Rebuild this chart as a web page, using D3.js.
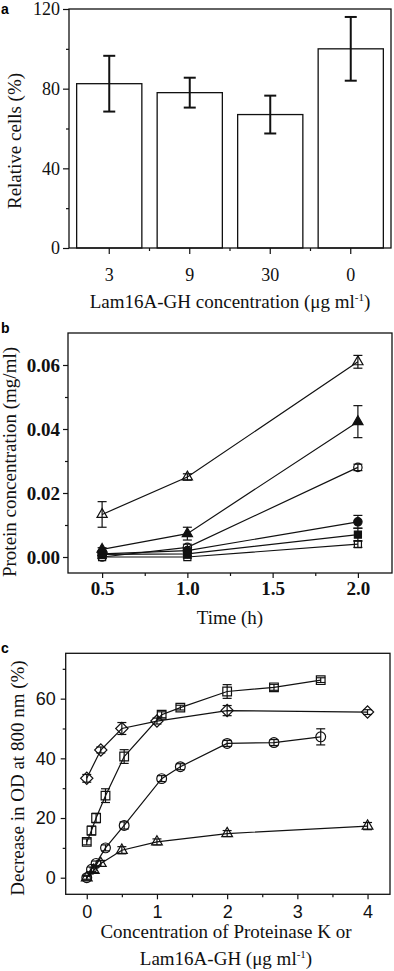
<!DOCTYPE html>
<meta charset="utf-8" />
<title>Lam16A-GH panels</title>
<style>
  body { margin: 0; background: #fff; }
  svg { display: block; }
  .serif { font-family: "Liberation Serif", "Times New Roman", serif; }
  .sans { font-family: "Liberation Sans", Arial, sans-serif; }
</style>
<body>
<svg width="394" height="971"></svg>
<script src="https://d3js.org/d3.v7.min.js"></script>
<script>
  // ---- panel a: relative cells
  const barCats = ["3", "9", "30", "0"];
  const barVals = [82.5, 78, 67, 100];
  const barErr = [14, 7.5, 9.5, 16];

  // ---- panel b: protein release over time
  const timeH = [0.5, 1.0, 2.0];
  const bOpenTri = [0.0133, 0.025, 0.061];
  const bOpenTriErr = [0.004, 0.001, 0.002];
  const bFillTri = [0.0024, 0.0073, 0.0423];
  const bFillTriErr = [0.0005, 0.002, 0.005];
  const bOpenCirc = [0.0, 0.003, 0.028];
  const bOpenCircErr = [0.0005, 0.001, 0.001];
  const bFillCirc = [0.001, 0.002, 0.011];
  const bFillCircErr = [0.0004, 0.0005, 0.002];
  const bFillSq = [0.0008, 0.001, 0.007];
  const bFillSqErr = [0.0004, 0.0004, 0.002];
  const bOpenSq = [0.0, 0.0, 0.004];
  const bOpenSqErr = [0.0004, 0.0004, 0.001];

  // ---- panel c: OD decrease vs concentration
  const pkConc = [0, 0.067, 0.133, 0.267, 0.533, 1.067, 1.333, 2, 2.667, 3.333];
  const cSquare = [12, 15.8, 20, 27.5, 40.6, 54.6, 57, 62.4, 63.8, 66.2];
  const cSquareErr = [1, 1.5, 1.6, 2.3, 2.3, 1, 0.8, 2.3, 1, 0.8];
  const cCircle = [0, 2.8, 4.8, 10, 17.5, 33.2, 37.2, 45, 45.3, 47.2];
  const cCircleErr = [0.8, 0.8, 0.8, 1, 1.2, 1, 1, 1, 1, 2.7];
  const diaConc = [0, 0.2, 0.5, 1, 2, 4];
  const cDiamond = [33.3, 42.8, 50, 52.5, 56, 55.5];
  const cDiamondErr = [1.3, 1, 2, 1, 1.7, 0.8];
  const triConc = [0, 0.1, 0.2, 0.5, 1, 2, 4];
  const cTriangle = [0, 2.5, 4.8, 9.2, 12, 14.8, 17.3];
  const cTriangleErr = [0.5, 0.8, 1, 1.2, 1, 1, 1.2];

  const svg = d3.select("svg");
  const ink = "#111";
  const labelSize = 19;

  function frame(x0, x1, y0, y1) {
    svg.append("rect").attr("x", x0).attr("y", y0)
      .attr("width", x1 - x0).attr("height", y1 - y0)
      .attr("fill", "none").attr("stroke", ink).attr("stroke-width", 1.3);
  }

  function styleAxis(sel, cls, size, weight) {
    sel.select(".domain").remove();
    sel.selectAll("line").attr("stroke", ink).attr("stroke-width", 1.2);
    sel.selectAll("text").attr("class", cls).attr("fill", ink)
      .attr("font-size", size).attr("font-weight", weight || "normal");
    sel.attr("font-family", null).attr("font-size", null);
  }

  function axes(x, y, o) {
    const [x0] = x.range(), [y1] = y.range();
    svg.append("g").attr("transform", `translate(${x0},0)`)
      .call(d3.axisLeft(y).tickValues(o.yMinor).tickSize(3).tickFormat(""))
      .call(s => styleAxis(s));
    svg.append("g").attr("transform", `translate(${x0},0)`)
      .call(d3.axisLeft(y).tickValues(o.yTicks).tickSize(5).tickPadding(o.yPad).tickFormat(o.yFmt))
      .call(s => styleAxis(s, o.cls, o.size, o.weight));
    svg.append("g").attr("transform", `translate(0,${y1})`)
      .call(d3.axisBottom(x).tickValues(o.xMinor).tickSize(3).tickFormat(""))
      .call(s => styleAxis(s));
    svg.append("g").attr("transform", `translate(0,${y1})`)
      .call(d3.axisBottom(x).tickValues(o.xTicks).tickSize(5).tickPadding(o.xPad).tickFormat(o.xFmt))
      .call(s => styleAxis(s, o.cls, o.size, o.weight));
  }

  function yLabel(text, xBase, yCenter) {
    svg.append("text").attr("class", "serif").attr("font-size", labelSize).attr("fill", ink)
      .attr("text-anchor", "middle")
      .attr("transform", `translate(${xBase},${yCenter}) rotate(-90)`)
      .text(text);
  }

  function xLabel(x, y) {
    return svg.append("text").attr("class", "serif").attr("font-size", labelSize).attr("fill", ink)
      .attr("text-anchor", "middle").attr("x", x).attr("y", y);
  }

  function labelWithUnit(parent, pre) {
    parent.append("tspan").text(pre);
    parent.append("tspan").attr("font-size", 11).attr("dy", -7).text("-1");
    parent.append("tspan").attr("dy", 7).text(")");
  }

  function panelTag(t, x, y) {
    svg.append("text").attr("class", "sans").attr("font-weight", "bold")
      .attr("font-size", 14).attr("x", x).attr("y", y).text(t);
  }

  function errBars(g, xs, ys, es, x, y, cap) {
    xs.forEach((xv, i) => {
      const cx = x(xv), top = y(ys[i] + es[i]), bot = y(ys[i] - es[i]);
      g.append("line").attr("x1", cx).attr("x2", cx).attr("y1", top).attr("y2", bot);
      g.append("line").attr("x1", cx - cap / 2).attr("x2", cx + cap / 2).attr("y1", top).attr("y2", top);
      g.append("line").attr("x1", cx - cap / 2).attr("x2", cx + cap / 2).attr("y1", bot).attr("y2", bot);
    });
  }

  function series(s, x, y, cap) {
    const g = svg.append("g").attr("stroke", ink).attr("stroke-width", 1.2);
    const pts = s.x.map((xv, i) => [xv, s.y[i]]);
    g.append("path").datum(pts).attr("fill", "none")
      .attr("d", d3.line().x(d => x(d[0])).y(d => y(d[1])));
    errBars(g, s.x, s.y, s.e, x, y, cap);
    g.selectAll(".m").data(pts).join("path")
      .attr("transform", d => `translate(${x(d[0])},${y(d[1])}) rotate(${s.rot || 0})`)
      .attr("d", d3.symbol(s.sym, s.size))
      .attr("fill", s.filled ? ink : "none");
  }

  // ================= panel a =================
  const aX = d3.scaleBand().domain(barCats).range([69, 391]).paddingInner(0.19).paddingOuter(0.095);
  const aY = d3.scaleLinear().domain([0, 120]).range([248, 9]);

  svg.append("g").selectAll("rect").data(barCats).join("rect")
    .attr("x", d => aX(d)).attr("y", (d, i) => aY(barVals[i]))
    .attr("width", aX.bandwidth()).attr("height", (d, i) => aY(0) - aY(barVals[i]))
    .attr("fill", "#fff").attr("stroke", ink).attr("stroke-width", 1.3);

  const aErrG = svg.append("g").attr("stroke", ink).attr("stroke-width", 2);
  errBars(aErrG, barCats, barVals, barErr, d => aX(d) + aX.bandwidth() / 2, aY, 12);

  svg.append("g").attr("transform", "translate(69,0)")
    .call(d3.axisLeft(aY).tickValues([20, 60, 100]).tickSize(3).tickFormat(""))
    .call(s => styleAxis(s));
  svg.append("g").attr("transform", "translate(69,0)")
    .call(d3.axisLeft(aY).tickValues([0, 40, 80, 120]).tickSize(6).tickPadding(3))
    .call(s => styleAxis(s, "serif", 18));
  svg.append("g").attr("transform", "translate(0,248)")
    .call(d3.axisBottom(aX).tickSize(6).tickPadding(14))
    .call(s => styleAxis(s, "serif", 18));
  const aMinor = barCats.slice(0, -1).map(c => aX(c) + aX.bandwidth() + (aX.step() - aX.bandwidth()) / 2);
  svg.append("g").selectAll("line").data(aMinor).join("line")
    .attr("x1", d => d).attr("x2", d => d).attr("y1", 248).attr("y2", 251)
    .attr("stroke", ink).attr("stroke-width", 1.2);
  frame(69, 391, 9, 248);

  yLabel("Relative cells (%)", 21, 141);
  labelWithUnit(xLabel(230, 308), "Lam16A-GH concentration (\u03bcg ml");
  panelTag("a", 1, 14);

  // ================= panel b =================
  const bX = d3.scaleLinear().domain([0.3, 2.2]).range([68, 392]);
  const bY = d3.scaleLinear().domain([-0.005, 0.07]).range([573, 333]);
  axes(bX, bY, {
    yTicks: [0, 0.02, 0.04, 0.06], yMinor: [0.01, 0.03, 0.05], yFmt: d3.format(".2f"), yPad: 3,
    xTicks: [0.5, 1, 1.5, 2], xMinor: [0.75, 1.25, 1.75], xFmt: d3.format(".1f"), xPad: 4,
    cls: "serif", size: 19, weight: "bold"
  });
  frame(68, 392, 333, 573);

  const bSeries = [
    { x: timeH, y: bOpenSq, e: bOpenSqErr, sym: d3.symbolSquare, size: 50 },
    { x: timeH, y: bFillSq, e: bFillSqErr, sym: d3.symbolSquare, size: 50, filled: true },
    { x: timeH, y: bFillCirc, e: bFillCircErr, sym: d3.symbolCircle, size: 55, filled: true },
    { x: timeH, y: bOpenCirc, e: bOpenCircErr, sym: d3.symbolCircle, size: 55 },
    { x: timeH, y: bFillTri, e: bFillTriErr, sym: d3.symbolTriangle, size: 45, filled: true },
    { x: timeH, y: bOpenTri, e: bOpenTriErr, sym: d3.symbolTriangle, size: 45 }
  ];
  bSeries.forEach(s => series(s, bX, bY, 9));

  yLabel("Protein concentration (mg/ml)", 16, 462);
  xLabel(230, 624).text("Time (h)");
  panelTag("b", 1, 333);

  // ================= panel c =================
  const cX = d3.scaleLinear().domain([-0.3, 4.32]).range([65.7, 390]);
  const cY = d3.scaleLinear().domain([-5.56, 75.2]).range([894.3, 653.3]);
  axes(cX, cY, {
    yTicks: [0, 20, 40, 60], yMinor: [10, 30, 50, 70], yFmt: d3.format("d"), yPad: 5,
    xTicks: [0, 1, 2, 3, 4], xMinor: [0.5, 1.5, 2.5, 3.5], xFmt: d3.format("d"), xPad: 6,
    cls: "sans", size: 18
  });
  frame(65.7, 390, 653.3, 894.3);

  const cSeries = [
    { x: triConc, y: cTriangle, e: cTriangleErr, sym: d3.symbolTriangle, size: 50 },
    { x: pkConc, y: cCircle, e: cCircleErr, sym: d3.symbolCircle, size: 75 },
    { x: diaConc, y: cDiamond, e: cDiamondErr, sym: d3.symbolSquare, size: 75, rot: 45 },
    { x: pkConc, y: cSquare, e: cSquareErr, sym: d3.symbolSquare, size: 75 }
  ];
  cSeries.forEach(s => series(s, cX, cY, 9));

  yLabel("Decrease in OD at 800 nm (%)", 24, 778);
  xLabel(226, 938).text("Concentration of Proteinase K or");
  labelWithUnit(xLabel(226, 965), "Lam16A-GH (\u03bcg ml");
  panelTag("c", 1, 653);
</script>
</body>
